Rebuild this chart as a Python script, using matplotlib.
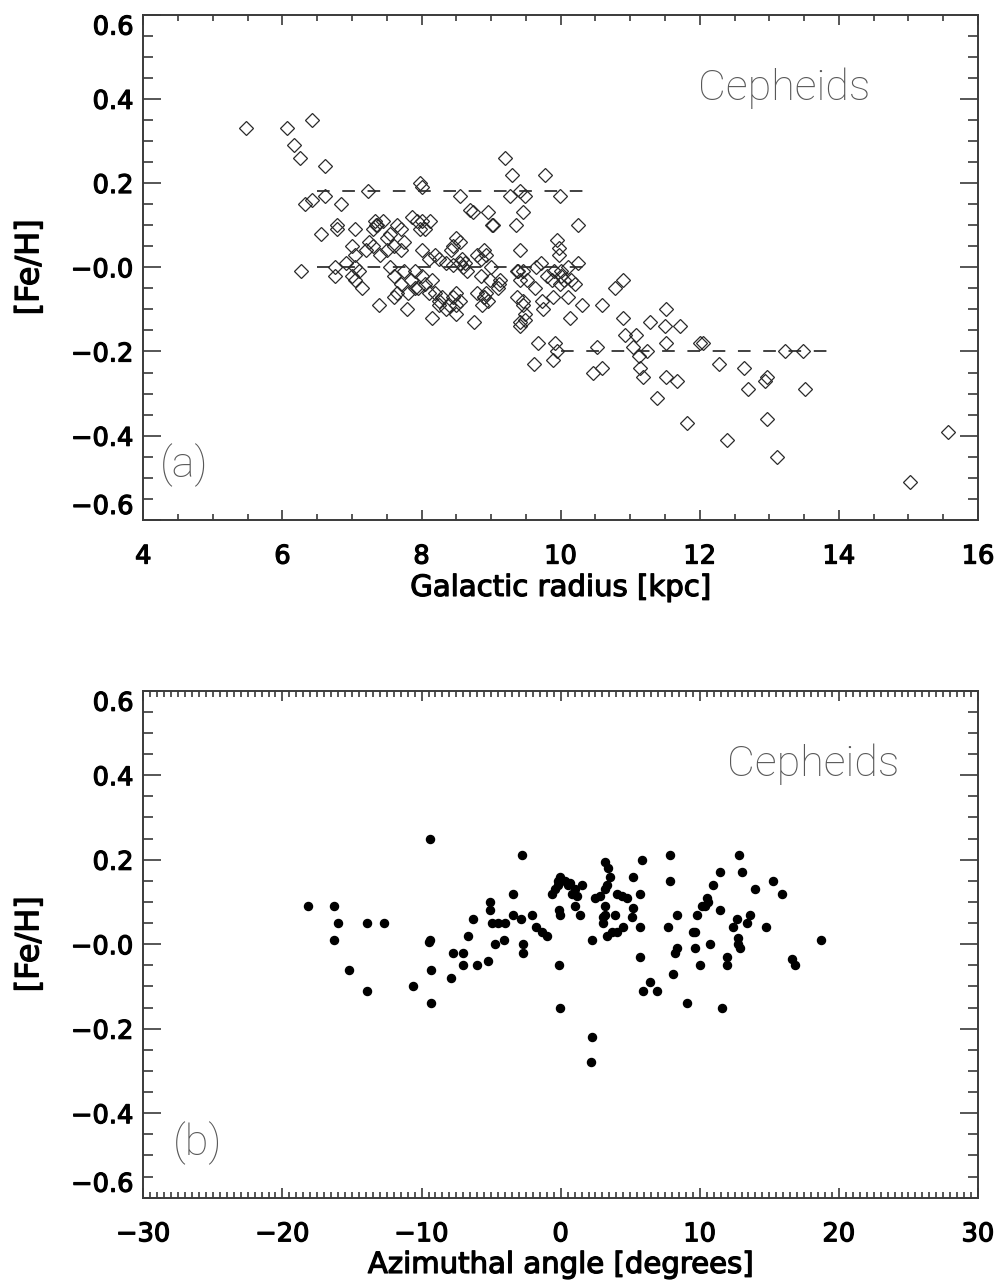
import matplotlib
matplotlib.use("Agg")
import matplotlib.pyplot as plt
import matplotlib.patheffects as pe
from matplotlib.ticker import MultipleLocator

# ---------------- data: panel (a) ----------------
radius_kpc = [
    5.47, 6.06, 6.42, 6.17, 6.25, 6.61,
    6.32, 6.42, 6.61, 6.84, 7.23, 7.98, 8.00, 8.55,
    6.27, 6.76, 6.76, 6.92,
    6.56, 6.78, 6.78, 7.04, 7.33, 7.36,
    7.30, 7.35, 7.45, 7.25, 7.55, 7.65, 7.70, 7.50,
    7.00, 7.05, 7.20, 7.30, 7.40, 7.50, 7.60, 7.70, 7.75,
    7.86, 7.93, 8.00, 8.12, 8.05, 7.98,
    8.50, 8.55, 8.45, 8.42,
    8.00, 8.10, 8.20, 8.25, 8.35, 8.45,
    8.55, 8.60, 8.58, 8.62, 8.65,
    8.80, 8.85, 8.90, 8.92,
    9.00, 8.98, 8.93, 8.90, 8.85,
    9.42, 9.94, 9.97, 9.97, 10.25, 9.71, 9.65,
    9.37, 9.46, 9.51,
    9.80, 9.90, 10.00, 10.10, 10.15,
    7.00, 7.05, 7.15, 7.10, 7.05,
    7.55, 7.60, 7.70, 7.75, 7.85, 7.90, 7.90, 8.00, 8.05, 8.15, 8.10,
    7.60, 7.65, 7.80, 7.95,
    8.20, 8.25, 8.30, 8.40, 8.45, 8.50, 8.55,
    8.25, 8.35, 8.50,
    8.80, 8.90, 8.95,
    9.10, 9.12,
    7.39, 7.79, 8.15, 8.50, 8.75, 8.87,
    9.37, 9.46, 9.46, 9.49, 9.42, 9.42, 9.49,
    9.63, 9.73, 9.75, 9.87, 9.89, 9.99,
    10.11, 10.13, 10.30, 10.59,
    9.68, 9.92, 9.94, 9.89, 9.61,
    9.20, 9.30, 9.77, 9.27, 9.42, 9.49, 9.99,
    8.69, 8.74, 8.96, 9.01, 9.46, 9.36, 10.25, 9.03,
    9.13, 9.39, 9.42, 10.00, 10.05, 10.20,
    10.78, 10.90, 10.90, 10.92, 11.09,
    11.04, 11.12, 11.14, 11.19, 11.24, 11.28,
    11.52, 11.50, 11.52, 11.72, 11.52, 11.67, 11.38, 11.81,
    10.52, 10.47, 10.59,
    12.00, 12.05, 12.27, 12.63, 12.70, 12.96, 12.94, 12.96, 12.39,
    13.23, 13.49, 13.51, 13.11, 15.02, 15.57,
]
feh_a = [
    0.33, 0.33, 0.35, 0.29, 0.26, 0.24,
    0.15, 0.16, 0.17, 0.15, 0.18, 0.20, 0.19, 0.17,
    -0.01, 0.00, -0.02, 0.01,
    0.08, 0.10, 0.09, 0.09, 0.11, 0.10,
    0.09, 0.10, 0.11, 0.06, 0.08, 0.10, 0.09, 0.07,
    0.05, 0.03, 0.04, 0.05, 0.03, 0.04, 0.05, 0.04, 0.06,
    0.12, 0.11, 0.11, 0.11, 0.09, 0.09,
    0.07, 0.06, 0.05, 0.04,
    0.04, 0.02, 0.03, 0.02, 0.01, 0.005,
    0.01, 0.00, 0.02, 0.01, -0.01,
    0.03, 0.02, 0.04, 0.03,
    0.00, -0.03, -0.06, -0.07, -0.02,
    0.04, 0.065, 0.03, 0.045, 0.01, 0.01, 0.00,
    -0.01, -0.01, -0.03,
    -0.02, -0.01, -0.02, 0.00, -0.03,
    -0.02, -0.03, -0.05, -0.01, 0.00,
    0.00, -0.02, -0.04, -0.01, -0.03, -0.01, -0.05, -0.02, -0.04, -0.03, -0.06,
    -0.07, -0.06, -0.06, -0.05,
    -0.06, -0.08, -0.07, -0.09, -0.07, -0.06, -0.08,
    -0.09, -0.10, -0.11,
    -0.06, -0.07, -0.08,
    -0.05, -0.04,
    -0.09, -0.10, -0.12, -0.09, -0.13, -0.09,
    -0.07, -0.08, -0.09, -0.11, -0.13, -0.14, -0.125,
    -0.05, -0.08, -0.10, -0.03, -0.07, -0.04,
    -0.07, -0.12, -0.09, -0.09,
    -0.18, -0.18, -0.20, -0.22, -0.23,
    0.26, 0.22, 0.22, 0.17, 0.18, 0.17, 0.17,
    0.135, 0.13, 0.13, 0.10, 0.13, 0.10, 0.10, 0.10,
    -0.03, -0.01, -0.03, -0.01, -0.03, -0.04,
    -0.05, -0.03, -0.12, -0.16, -0.16,
    -0.19, -0.21, -0.24, -0.26, -0.20, -0.13,
    -0.10, -0.14, -0.18, -0.14, -0.26, -0.27, -0.31, -0.37,
    -0.19, -0.25, -0.24,
    -0.18, -0.18, -0.23, -0.24, -0.29, -0.26, -0.27, -0.36, -0.41,
    -0.20, -0.20, -0.29, -0.45, -0.51, -0.39,
]

# mean-abundance segments (dashed lines)
seg_x0 = [6.5, 6.5, 10.0]
seg_x1 = [10.5, 10.5, 14.0]
seg_y = [0.18, 0.0, -0.20]

# ---------------- data: panel (b) ----------------
azimuth_deg = [
    -18.14, -16.29, -15.98, -16.29, -13.94, -12.70, -15.21, -13.94, -10.59,
    -9.39, -9.45, -9.32, -9.32, -9.40,
    -7.90, -7.71, -6.99, -6.64, -6.32, -7.04, -6.03, -5.24,
    -5.08, -5.08, -4.95, -4.47, -3.99, -4.72, -4.07,
    -3.40, -3.44, -2.87, -2.08, -2.68, -2.68,
    -1.77, -1.36, -1.00, -0.64, -0.09, -0.04, -0.09, -0.04,
    -2.80, 7.86, 12.85, 5.83,
    3.19, 3.43, 3.55, 3.31, 3.19,
    7.86, 11.45, 13.00, 15.25, 15.90,
    -0.04, -0.16, 5.18, 10.97, 13.97,
    -0.40, 0.55, 1.04, 1.51, 0.79, 1.16, -0.21, 0.68, 0.30,
    2.47, 2.83, 4.03, 4.39, 4.75, 5.71,
    10.50, 10.60,
    1.04, 1.40, 3.19, 3.19, 3.91, 5.23, 5.11,
    3.07, 3.07, 3.31, 3.67, 4.03, 4.51,
    5.71, 7.74, 8.35, 9.79, 10.14, 9.54, 11.45,
    12.66, 12.42, 13.62, 13.38, 14.77,
    2.23, 5.71, 8.35, 8.22, 9.66, 10.74,
    12.78, 12.78, 12.90, 11.94, 11.94,
    18.72, 16.60, 16.85,
    10.02, 8.10, 6.43, 5.95, 6.91, 9.06, 11.63,
    2.23, 2.19, 9.66, 10.36,
]
feh_b = [
    0.09, 0.09, 0.05, 0.01, 0.05, 0.05, -0.06, -0.11, -0.10,
    0.01, 0.005, -0.06, -0.14, 0.25,
    -0.08, -0.02, -0.02, 0.02, 0.06, -0.05, -0.05, -0.04,
    0.10, 0.08, 0.05, 0.05, 0.05, 0.00, 0.01,
    0.12, 0.07, 0.06, 0.07, 0.00, -0.02,
    0.04, 0.03, 0.02, 0.12, 0.08, 0.07, -0.05, -0.15,
    0.21, 0.21, 0.21, 0.20,
    0.195, 0.18, 0.16, 0.14, 0.13,
    0.15, 0.17, 0.17, 0.15, 0.12,
    0.16, 0.15, 0.16, 0.14, 0.13,
    0.13, 0.14, 0.13, 0.14, 0.12, 0.115, 0.14, 0.145, 0.15,
    0.11, 0.115, 0.12, 0.115, 0.11, 0.12,
    0.11, 0.10,
    0.09, 0.07, 0.09, 0.07, 0.07, 0.085, 0.065,
    0.065, 0.05, 0.02, 0.03, 0.03, 0.04,
    0.04, 0.04, 0.07, 0.07, 0.09, 0.03, 0.08,
    0.06, 0.04, 0.07, 0.05, 0.04,
    0.01, -0.03, -0.01, -0.02, -0.01, 0.00,
    0.015, 0.00, -0.01, -0.03, -0.05,
    0.01, -0.035, -0.05,
    -0.05, -0.07, -0.09, -0.11, -0.11, -0.14, -0.15,
    -0.22, -0.28, 0.03, 0.09,
]

ytick_vals = [0.6, 0.4, 0.2, 0.0, -0.2, -0.4, -0.6]
ytick_labels = ["0.6", "0.4", "0.2", "\u22120.0", "\u22120.2", "\u22120.4", "\u22120.6"]
xtick_vals_a = [4, 6, 8, 10, 12, 14, 16]
xtick_labels_a = ["4", "6", "8", "10", "12", "14", "16"]
xtick_vals_b = [-30, -20, -10, 0, 10, 20, 30]
xtick_labels_b = ["\u221230", "\u221220", "\u221210", "0", "10", "20", "30"]

FRAME = "#3a3a3a"
GRAY = "#585858"
THICK = [pe.withStroke(linewidth=0.9, foreground="black")]
plt.rcParams["font.family"] = ["DejaVu Sans"]

fig = plt.figure(figsize=(9.98, 12.87), dpi=100)
ax_a = fig.add_axes([0.1436, 0.5960, 0.8364, 0.3927])
ax_b = fig.add_axes([0.1436, 0.0694, 0.8364, 0.3939])


def style(ax, xmin, xmax, xminor, xt, xl):
    ax.set_xlim(xmin, xmax)
    ax.set_ylim(-0.6, 0.6)
    ax.set_xticks(xt, xl)
    ax.set_yticks(ytick_vals, ytick_labels)
    ax.xaxis.set_minor_locator(MultipleLocator(xminor))
    ax.yaxis.set_minor_locator(MultipleLocator(0.05))
    for s in ax.spines.values():
        s.set_color(FRAME)
        s.set_linewidth(1.4)
    ax.tick_params(which="both", direction="in", top=True, right=True,
                   color=FRAME, width=1.2, labelsize=18.5, labelcolor="black")
    ax.tick_params(axis="y", which="major", length=13, pad=7)
    ax.tick_params(axis="y", which="minor", length=7)
    ax.tick_params(axis="x", which="major", length=7.5, pad=17)
    ax.tick_params(axis="x", which="minor", length=4)
    for lab in ax.get_xticklabels() + ax.get_yticklabels():
        lab.set_path_effects(THICK)
    labs = ax.get_yticklabels()
    labs[0].set_va("top")
    labs[-1].set_va("bottom")


style(ax_a, 4, 16, 0.5, xtick_vals_a, xtick_labels_a)
style(ax_b, -30, 30, 0.5, xtick_vals_b, xtick_labels_b)

# panel (a)
for x0, x1, y in zip(seg_x0, seg_x1, seg_y):
    ax_a.plot([x0, x1], [y, y], color="#333333", lw=1.3,
              linestyle=(0, (7, 7)), zorder=1)
ax_a.plot(radius_kpc, feh_a, linestyle="none", marker="D", markersize=7,
          markerfacecolor="none", markeredgecolor="#2a2a2a",
          markeredgewidth=0.9, zorder=2)

# panel (b)
ax_b.plot(azimuth_deg, feh_b, linestyle="none", marker="o", markersize=5.8,
          markerfacecolor="black", markeredgecolor="black", zorder=2)

for ax, xl, ly, cx, tag, tagx in [
    (ax_a, "Galactic radius [kpc]", -0.1345, 0.665, "(a)", 0.020),
    (ax_b, "Azimuthal angle [degrees]", -0.1327, 0.699, "(b)", 0.036),
]:
    ax.set_xlabel(xl, fontsize=21, va="center", path_effects=THICK)
    ax.xaxis.set_label_coords(0.5, ly)
    ax.set_ylabel("[Fe/H]", fontsize=23, va="center", path_effects=THICK)
    ax.yaxis.set_label_coords(-0.136, 0.5)
    ax.text(cx, 0.831, "Cepheids", transform=ax.transAxes, fontsize=31,
            family=["Roboto", "DejaVu Sans"], fontweight="light",
            color=GRAY, ha="left", va="baseline")
    ax.text(tagx, 0.108, tag, transform=ax.transAxes, fontsize=31,
            family=["Roboto", "DejaVu Sans"], fontweight="light",
            color=GRAY, ha="left", va="center")

fig.savefig("out.png", dpi=100)
